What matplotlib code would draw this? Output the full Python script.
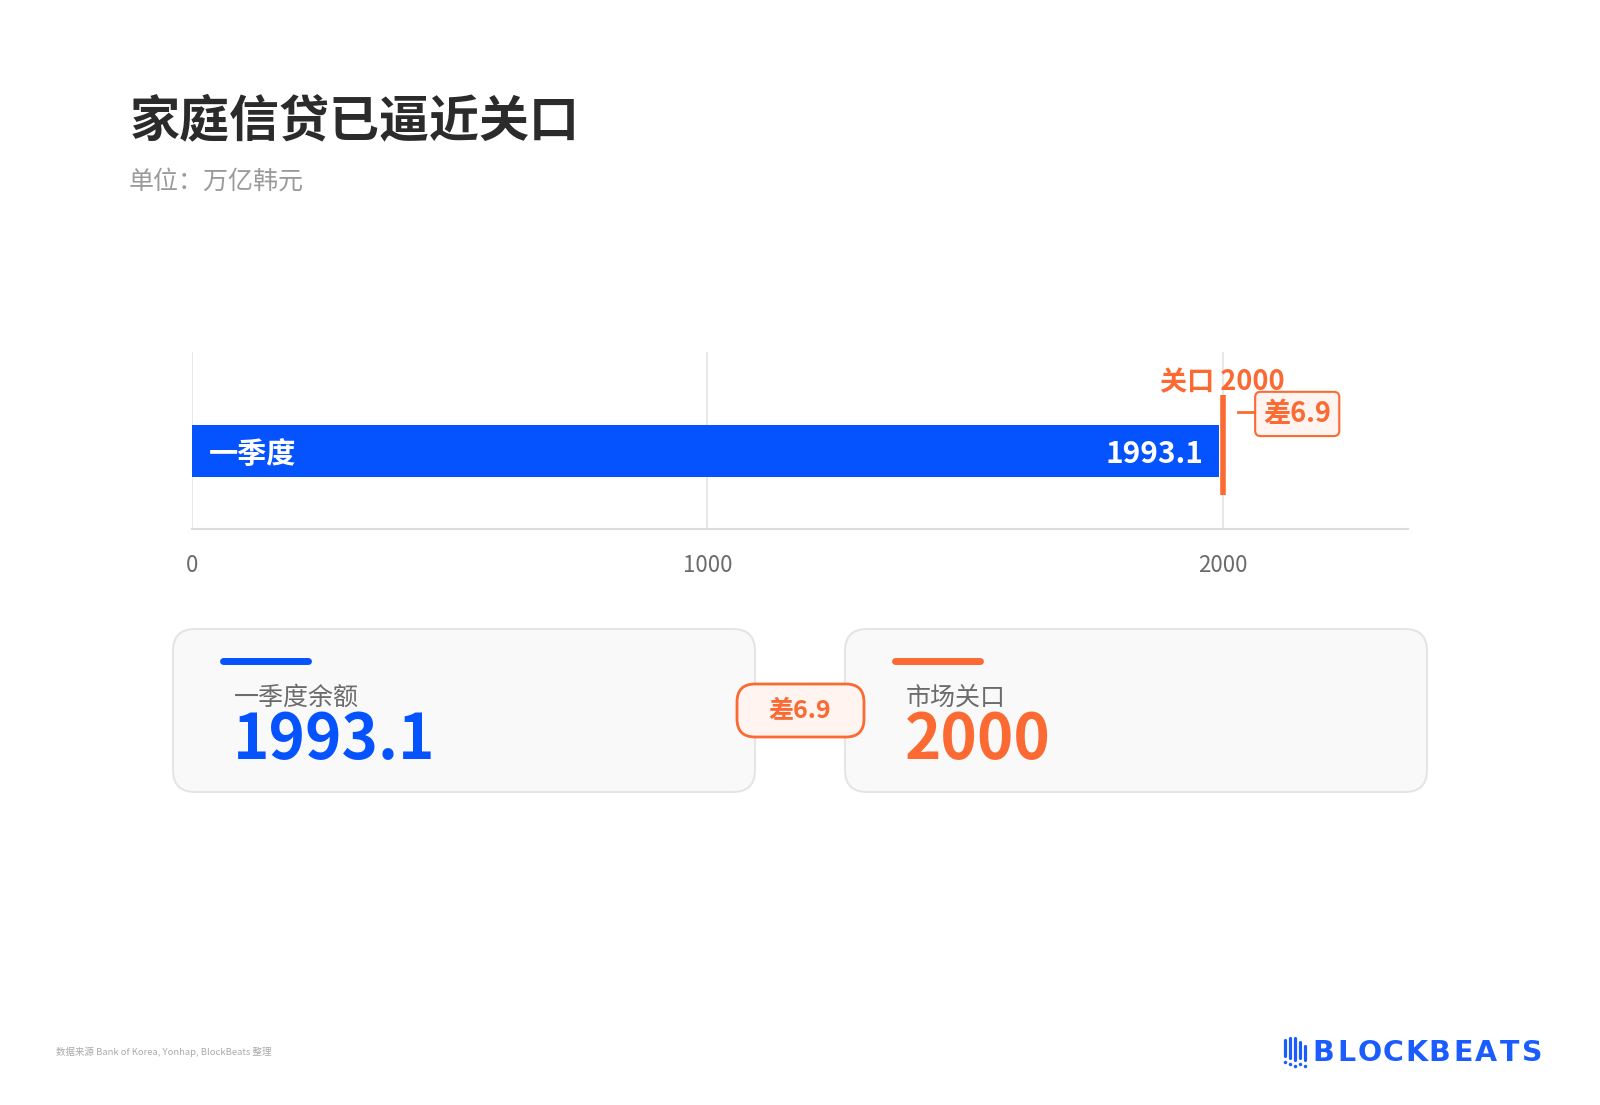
import matplotlib
matplotlib.use("Agg")
import matplotlib.pyplot as plt
from matplotlib.patches import FancyBboxPatch

plt.rcParams['font.family'] = ['Noto Sans CJK SC', 'DejaVu Sans']

# données
titre = "家庭信贷已逼近关口"
sous_titre = "单位：万亿韩元"
categorie = "一季度"
valeur = 1993.1
seuil = 2000
ticks = [0, 1000, 2000]
cartes_labels = ["一季度余额", "市场关口"]
cartes_valeurs = ["1993.1", "2000"]
source = "数据来源 Bank of Korea, Yonhap, BlockBeats 整理"
logo = "BLOCKBEATS"

BLEU = "#0552ff"
ORANGE = "#fa6a32"
GRIS = "#6b6b6b"

fig = plt.figure(figsize=(16, 11.05), dpi=100)
fig.patch.set_facecolor("white")

# fond en coordonnées pixel
bg = fig.add_axes([0, 0, 1, 1], zorder=0)
bg.set_xlim(0, 1600)
bg.set_ylim(1105, 0)
bg.axis("off")

bg.text(130, 122, titre, fontsize=36, fontweight="bold", color="#2b2b2b", va="center", ha="left")
bg.text(129, 182, sous_titre, fontsize=18, color="#9a9a9a", va="center", ha="left")

# graphique
ax = fig.add_axes([192/1600, 1 - 529/1105, (1408-192)/1600, (529-352)/1105], zorder=2)
ax.patch.set_alpha(0)
ax.set_xlim(0, 2360)
ax.set_ylim(0, 1)
ax.barh([0.44], [valeur], height=0.294, color=BLEU, zorder=3)
for t in ticks:
    ax.axvline(t, color="#e4e4e4", lw=1.2, zorder=1)
ax.set_xticks(ticks)
ax.set_xticklabels([str(t) for t in ticks], fontsize=16, color=GRIS)
ax.tick_params(axis="x", length=0, pad=18)
ax.set_yticks([])
for s in ["top", "right", "left"]:
    ax.spines[s].set_visible(False)
ax.spines["bottom"].set_color("#dcdcdc")
ax.spines["bottom"].set_linewidth(1.5)

ax.annotate(categorie, (0, 0.44), xytext=(12, -2), textcoords="offset points",
            fontsize=21, fontweight="bold", color="white", va="center", ha="left", zorder=4)
ax.annotate(f"{valeur}", (valeur, 0.44), xytext=(-11, -2), textcoords="offset points",
            fontsize=21.5, fontweight="bold", color="white", va="center", ha="right", zorder=4)

# ligne du seuil
ax.plot([seuil, seuil], [0.19, 0.757], color=ORANGE, lw=4, solid_capstyle="butt", zorder=5)
ax.text(seuil, 0.83, f"关口 {seuil}", fontsize=19.5, fontweight="bold", color=ORANGE,
        ha="center", va="center", zorder=5)
ecart = seuil - valeur
ax.plot([seuil + 30, seuil + 62], [0.66, 0.66], color=ORANGE, lw=2, zorder=5)
ax.text(seuil + 145, 0.65, f"差{ecart:.1f}", fontsize=19.5, fontweight="bold", color=ORANGE,
        ha="center", va="center", zorder=6,
        bbox=dict(boxstyle="round,pad=0.3,rounding_size=0.2", fc="#fff4ef", ec=ORANGE, lw=1.5))

# cartes
cartes_x = [173, 845]
couleurs = [BLEU, ORANGE]
for x0, lab, val, c in zip(cartes_x, cartes_labels, cartes_valeurs, couleurs):
    bg.add_patch(FancyBboxPatch((x0, 629), 582, 163, boxstyle="round,pad=0,rounding_size=22",
                                fc="#f9f9fa", ec="#e5e5e5", lw=1.5))
    bg.plot([x0 + 50, x0 + 135], [661, 661], color=c, lw=5, solid_capstyle="round")
    bg.text(x0 + 61, 698, lab, fontsize=18, color=GRIS, va="center", ha="left")
    bg.text(x0 + 60, 741, val, fontsize=44.5, fontweight="bold", color=c, va="center", ha="left")

# pastille centrale
bg.add_patch(FancyBboxPatch((737, 684), 127, 53, boxstyle="round,pad=0,rounding_size=18",
                            fc="#fff4ef", ec=ORANGE, lw=2, zorder=3))
bg.text(800, 711, f"差{ecart:.1f}", fontsize=18, fontweight="bold", color=ORANGE,
        ha="center", va="center", zorder=4)

# pied de page
bg.text(56, 1052, source, fontsize=6.8, color="#aaaaaa", va="center", ha="left")

# logo
BLEU_LOGO = "#1a5cff"
for i, (haut, bas) in enumerate([(1040, 1056), (1038, 1058), (1038, 1060), (1042, 1058), (1046, 1060)]):
    xx = 1285 + i * 5
    bg.plot([xx, xx], [haut, bas], color=BLEU_LOGO, lw=2.3, solid_capstyle="round")
    bg.plot([xx], [bas + 6], marker="o", ms=2.5, color=BLEU_LOGO, mec="none")
pas = (1544 - 1312) / len(logo)
for i, lettre in enumerate(logo):
    bg.text(1312 + pas * (i + 0.5), 1053, lettre, fontsize=20.5, fontweight="bold",
            color=BLEU_LOGO, family="DejaVu Sans", va="center", ha="center")

fig.savefig("out.png", dpi=100, facecolor="white")
